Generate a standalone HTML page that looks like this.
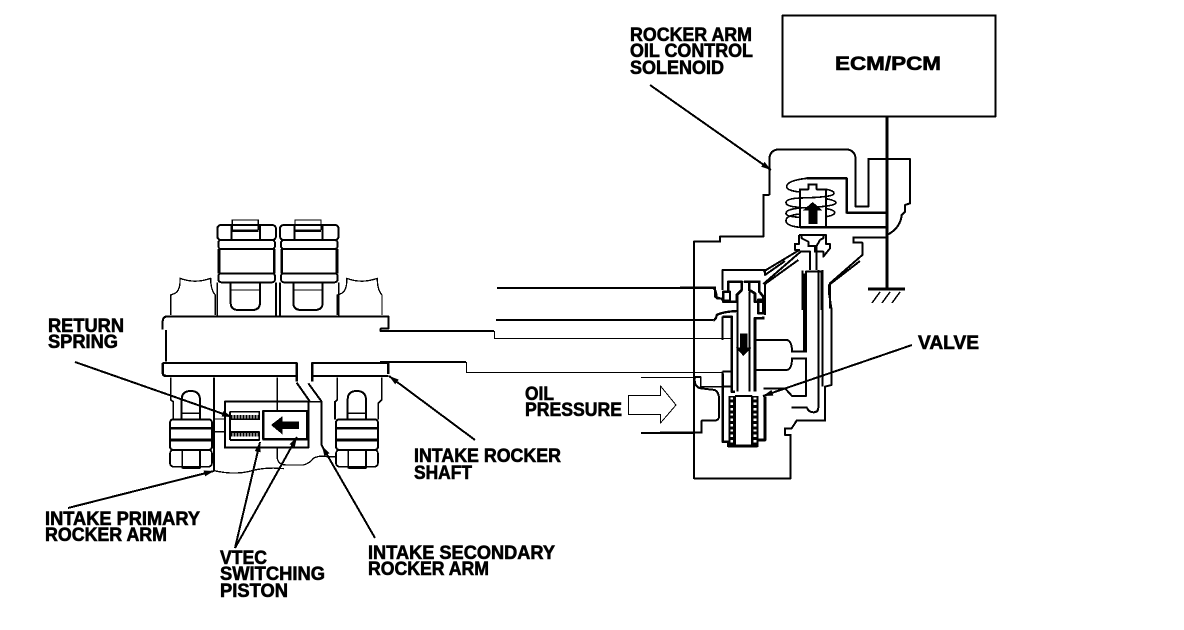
<!DOCTYPE html>
<html><head><meta charset="utf-8"><style>
html,body{margin:0;padding:0;background:#fff;width:1184px;height:630px;overflow:hidden}
svg{display:block}
text{font-family:"Liberation Sans",sans-serif;font-weight:bold;font-size:19px;fill:#000;stroke:#000;stroke-width:.6}
.g path,.g rect,.g ellipse,.g line{fill:none;stroke:#000;stroke-linejoin:round;shape-rendering:crispEdges}
</style></head><body>
<svg width="1184" height="630" viewBox="0 0 1184 630" xmlns="http://www.w3.org/2000/svg">
<defs>
<marker id="a" viewBox="0 0 10 6" refX="10" refY="3" markerWidth="10" markerHeight="6" markerUnits="userSpaceOnUse" orient="auto"><path d="M0 0L10 3L0 6Z" fill="#000"/></marker>
<g id="bolt" class="g">
<rect x="232" y="45" width="176" height="45" rx="11" stroke-width="6"/>
<path d="M275 45V90M360 45V90" stroke-width="6"/>
<path d="M277 60V30H355V60" stroke-width="4"/>
<path d="M277 62H355" stroke-width="7"/>
<rect x="235" y="90" width="170" height="27" rx="9" stroke-width="6"/>
<rect x="235" y="190" width="170" height="27" rx="9" stroke-width="6"/>
<path d="M237 117V190M403 117V190" stroke-width="8"/>
<path d="M232 217V318M408 217V318" stroke-width="5"/>
<path d="M272 217V278Q272 300 295 300H337Q360 300 360 278V217" stroke-width="6"/>
<path d="M275 240H357" stroke-width="4"/>
</g>
<g id="low" class="g">
<path d="M125 628V570Q125 543 152 543Q180 543 180 570V628" stroke-width="6"/>
<path d="M128 610H178" stroke-width="5"/>
<rect x="90" y="628" width="126" height="92" rx="10" stroke-width="6"/>
<path d="M90 655H216M90 690H216" stroke-width="8"/>
<rect x="90" y="720" width="126" height="50" rx="10" stroke-width="5"/>
<path d="M127 720V775M180 720V775M127 775H180" stroke-width="5"/>
</g>
<g id="cov" class="g">
<path d="M92 315V255L105 250Q122 240 120 205Q165 222 212 205Q212 240 226 255V315" stroke-width="4"/>
</g>
</defs>

<!-- ECM -->
<g class="g">
<rect x="782.5" y="15.5" width="213" height="101" stroke-width="2"/>
<path d="M887 116V290" stroke-width="3"/>
<path d="M868 289H905" stroke-width="3"/>
<path d="M880 292L872 303M890 292L882 303M900 292L892 303" stroke-width="1.5"/>
</g>

<!-- left assembly -->
<g transform="translate(140 210) scale(.3333)" class="g">
<use href="#bolt"/><use href="#bolt" x="188"/>
<use href="#cov"/><use href="#cov" x="500"/>
<path d="M68 358V335Q68 319 84 319H745V356H722V363H745" stroke-width="6"/>
<path d="M78 360V455" stroke-width="7"/>
<path d="M68 459H470V515M517 515V459H722M722 459H745V492M68 459V488Q68 498 80 498H470M517 498H745" stroke-width="7"/>
<path d="M92 502V570L100 575V628M222 502V780M412 502V575M592 502V570L585 575V628M725 502V570L715 580V628" stroke-width="5"/>
<use href="#low"/><use href="#low" x="498"/>
<rect x="255" y="575" width="250" height="138" stroke-width="6"/>
<rect x="370" y="603" width="132" height="85" stroke-width="7"/>
<path d="M270 605H358V628H270M270 690H358V666H270M270 605V690" stroke-width="5"/>
<path d="M272 620H355M272 674H355" stroke-width="10" stroke-dasharray="6 3"/>
<path d="M222 627H255M222 665H255" stroke-width="4"/>
<path d="M222 782Q280 795 325 785Q375 770 432 776M412 715V745Q415 765 440 765H490Q510 760 520 745Q540 735 560 740H585" stroke-width="4"/>
<path d="M470 518L510 575H505M505 520L545 575V705L560 735" stroke-width="6"/>
<path d="M505 575H545M412 602V575" stroke-width="5"/>
<path d="M393 645L428 618V635H477V657H428V674Z" style="fill:#000;stroke:none"/>
</g>

<!-- shaft lines -->
<g class="g">
<path d="M497 288H713" stroke-width="2"/>
<path d="M496 320H713" stroke-width="2"/>
<path d="M380 331H494" stroke-width="2"/>
<path d="M494.5 331V338.5H732" stroke-width="1"/>
<path d="M380 362H466" stroke-width="2"/>
<path d="M466.5 362V372.5H723" stroke-width="1"/>
<path d="M641 377.5H701" stroke-width="1"/>
<path d="M641 433H695" stroke-width="2"/>
<path d="M628.5 395.5H660.5V386L676 405L660.5 423V414.5H628.5Z" stroke-width="1"/>
</g>

<!-- solenoid -->
<g transform="translate(680 140) scale(.3333)" class="g">
<path d="M268 165V60Q268 28 300 28H495Q527 28 527 60V200H565V57H690V190L675 195V215L665 225Q662 262 625 283" stroke-width="6"/>
<path d="M268 165H250V290H120V305H42V440" stroke-width="6"/>
<path d="M0 442H105V470L128 478" stroke-width="6"/>
<path d="M380 115H500V218H622" stroke-width="7"/>
<path d="M380 115Q320 122 320 140Q320 152 360 156M438 148Q462 152 462 160Q462 172 360 174Q318 176 318 188Q318 200 360 202M438 176Q468 182 468 188Q468 200 360 204Q318 208 318 220Q318 230 360 232M438 206Q464 210 464 218Q464 226 438 230M360 222Q318 226 318 242Q318 258 360 262" stroke-width="5"/>
<path d="M360 262V148H385V133H410V148H438V262" stroke-width="6"/>
<path d="M360 262H622" stroke-width="8"/>
<path d="M385 252V212H368L398 186L428 212H412V252Z" style="fill:#000;stroke:none"/>
<path d="M357 285H438V312H450V325L430 350V335H405V318M357 285V312H345V330H358L250 395M365 285V295L385 305V318H410L420 300L430 295V285" stroke-width="6"/>
<path d="M362 335H390V390M410 318V390M362 335L250 432" stroke-width="6"/>
<path d="M368 392V510M425 392V510" stroke-width="6"/>
<path d="M622 292H520V308H547V345L450 430V505" stroke-width="6"/>
<path d="M565 447H675" stroke-width="8"/>
</g>

<!-- valve -->
<g transform="translate(660 260) scale(.3333)" class="g">
<path d="M188 90V30H315V45L375 3M315 72L415 0M315 72V165" stroke-width="6"/>
<path d="M160 84Q170 90 170 115H188V122H210V95H188" stroke-width="6"/>
<path d="M205 65H245V90L230 105V125H190V95H205ZM255 65H298V95L310 110V125H285V100L268 90V65Z" stroke-width="8"/>
<path d="M295 120H310V160H295Z" stroke-width="8"/>
<path d="M232 105V395M268 95V395" stroke-width="6"/>
<path d="M102 0V655H392V525H375V505H395L410 482H495V380L515 375V150L507 100V75L600 3" stroke-width="6"/>
<path d="M160 182Q170 175 170 165Q190 155 232 153" stroke-width="7"/>
<path d="M188 170H215V395H225M285 395V175H310V170" stroke-width="8"/>
<path d="M188 170V240M188 335V380H215" stroke-width="6"/>
<path d="M215 240V335H188" stroke-width="6"/>
<path d="M102 350H122V380H188" stroke-width="4"/>
<path d="M105 350Q100 380 122 385L165 390Q177 398 177 415V470Q177 480 165 482H125V518H0" stroke-width="6"/>
<path d="M188 340V545H205V558H292V540H315V410" stroke-width="8"/>
<path d="M225 408H275V555M225 408V555" stroke-width="5"/>
<path d="M215 408V555M285 408V555" stroke-width="20"/>
<path d="M215 412V553M285 412V553" style="stroke:#fff" stroke-width="8" stroke-dasharray="7 9"/>
<path d="M285 240H380Q396 242 396 275H438V35H488V30M432 40V275M488 30V380M450 30V0M470 30V0" stroke-width="6"/>
<path d="M285 330H380Q396 328 396 295H438V408H396L375 385H310" stroke-width="6"/>
<path d="M395 442H440Q446 457 460 457Q475 457 475 442V30" stroke-width="6"/>
<path d="M240 220H262V262H275L250 288L227 262H240Z" style="fill:#000;stroke:none"/>
</g>

<!-- leaders -->
<g class="g">
<path d="M650 85L771 170" stroke-width="2" marker-end="url(#a)"/>
<path d="M75 362L232 417" stroke-width="2" marker-end="url(#a)"/>
<path d="M475 440L389 376" stroke-width="2" marker-end="url(#a)"/>
<path d="M68 508L214 471" stroke-width="2" marker-end="url(#a)"/>
<path d="M235 548L260 442" stroke-width="2" marker-end="url(#a)"/>
<path d="M235 548L297 437" stroke-width="2" marker-end="url(#a)"/>
<path d="M375 538L322 446" stroke-width="2" marker-end="url(#a)"/>
<path d="M912 345L763 396" stroke-width="2" marker-end="url(#a)"/>
</g>

<!-- labels -->
<text x="630" y="41" textLength="122" lengthAdjust="spacingAndGlyphs">ROCKER ARM</text>
<text x="630" y="57" textLength="123" lengthAdjust="spacingAndGlyphs">OIL CONTROL</text>
<text x="630" y="74" textLength="94" lengthAdjust="spacingAndGlyphs">SOLENOID</text>
<text x="835" y="70" textLength="106" lengthAdjust="spacingAndGlyphs">ECM/PCM</text>
<text x="48" y="332" textLength="76" lengthAdjust="spacingAndGlyphs">RETURN</text>
<text x="48" y="348" textLength="70" lengthAdjust="spacingAndGlyphs">SPRING</text>
<text x="918" y="349" textLength="61" lengthAdjust="spacingAndGlyphs">VALVE</text>
<text x="525" y="400" textLength="29" lengthAdjust="spacingAndGlyphs">OIL</text>
<text x="525" y="416" textLength="97" lengthAdjust="spacingAndGlyphs">PRESSURE</text>
<text x="414" y="462" textLength="147" lengthAdjust="spacingAndGlyphs">INTAKE ROCKER</text>
<text x="414" y="479" textLength="58" lengthAdjust="spacingAndGlyphs">SHAFT</text>
<text x="45" y="525" textLength="155" lengthAdjust="spacingAndGlyphs">INTAKE PRIMARY</text>
<text x="45" y="541" textLength="122" lengthAdjust="spacingAndGlyphs">ROCKER ARM</text>
<text x="220" y="564" textLength="47" lengthAdjust="spacingAndGlyphs">VTEC</text>
<text x="220" y="580" textLength="105" lengthAdjust="spacingAndGlyphs">SWITCHING</text>
<text x="220" y="597" textLength="68" lengthAdjust="spacingAndGlyphs">PISTON</text>
<text x="368" y="559" textLength="187" lengthAdjust="spacingAndGlyphs">INTAKE SECONDARY</text>
<text x="368" y="575" textLength="121" lengthAdjust="spacingAndGlyphs">ROCKER ARM</text>
</svg>
</body></html>
